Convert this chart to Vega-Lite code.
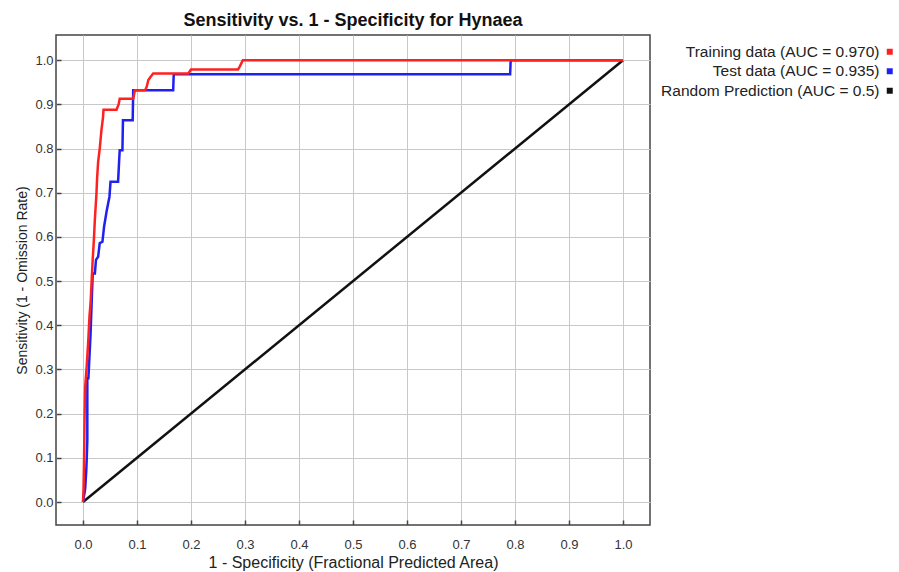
{
  "$schema": "https://vega.github.io/schema/vega-lite/v6.json",
  "autosize": {"type": "none"},
  "width": 594,
  "height": 490,
  "padding": {"left": 56, "top": 35, "right": 249, "bottom": 47},
  "background": "white",
  "title": {"text": "Sensitivity vs. 1 - Specificity for Hynaea", "font": "Liberation Sans", "fontSize": 18, "fontWeight": "bold", "color": "#111", "anchor": "middle", "offset": 5},
  "config": {
    "view": {"stroke": "#444", "strokeWidth": 1.5},
    "axis": {"labelFont": "Liberation Sans", "labelFontSize": 13, "labelColor": "#333", "titleFont": "Liberation Sans", "titleFontWeight": "normal", "titleColor": "#222", "gridColor": "#c8c8c8", "gridWidth": 1, "domain": false, "tickColor": "#444", "tickWidth": 1.5}
  },
  "data": {"values": [
    {"series": "Random Prediction (AUC = 0.5)", "i": 0, "x": 0, "y": 0},
    {"series": "Random Prediction (AUC = 0.5)", "i": 1, "x": 1, "y": 1},
    {"series": "Test data (AUC = 0.935)", "i": 0, "x": 0, "y": 0},
    {"series": "Test data (AUC = 0.935)", "i": 1, "x": 0.004, "y": 0.03},
    {"series": "Test data (AUC = 0.935)", "i": 2, "x": 0.006, "y": 0.07},
    {"series": "Test data (AUC = 0.935)", "i": 3, "x": 0.007, "y": 0.1},
    {"series": "Test data (AUC = 0.935)", "i": 4, "x": 0.008, "y": 0.14},
    {"series": "Test data (AUC = 0.935)", "i": 5, "x": 0.008, "y": 0.28},
    {"series": "Test data (AUC = 0.935)", "i": 6, "x": 0.01, "y": 0.28},
    {"series": "Test data (AUC = 0.935)", "i": 7, "x": 0.012, "y": 0.33},
    {"series": "Test data (AUC = 0.935)", "i": 8, "x": 0.014, "y": 0.38},
    {"series": "Test data (AUC = 0.935)", "i": 9, "x": 0.016, "y": 0.45},
    {"series": "Test data (AUC = 0.935)", "i": 10, "x": 0.018, "y": 0.517},
    {"series": "Test data (AUC = 0.935)", "i": 11, "x": 0.022, "y": 0.517},
    {"series": "Test data (AUC = 0.935)", "i": 12, "x": 0.024, "y": 0.548},
    {"series": "Test data (AUC = 0.935)", "i": 13, "x": 0.028, "y": 0.555},
    {"series": "Test data (AUC = 0.935)", "i": 14, "x": 0.031, "y": 0.586},
    {"series": "Test data (AUC = 0.935)", "i": 15, "x": 0.036, "y": 0.589},
    {"series": "Test data (AUC = 0.935)", "i": 16, "x": 0.039, "y": 0.623},
    {"series": "Test data (AUC = 0.935)", "i": 17, "x": 0.044, "y": 0.66},
    {"series": "Test data (AUC = 0.935)", "i": 18, "x": 0.049, "y": 0.691},
    {"series": "Test data (AUC = 0.935)", "i": 19, "x": 0.051, "y": 0.725},
    {"series": "Test data (AUC = 0.935)", "i": 20, "x": 0.065, "y": 0.725},
    {"series": "Test data (AUC = 0.935)", "i": 21, "x": 0.067, "y": 0.775},
    {"series": "Test data (AUC = 0.935)", "i": 22, "x": 0.068, "y": 0.796},
    {"series": "Test data (AUC = 0.935)", "i": 23, "x": 0.073, "y": 0.796},
    {"series": "Test data (AUC = 0.935)", "i": 24, "x": 0.074, "y": 0.864},
    {"series": "Test data (AUC = 0.935)", "i": 25, "x": 0.092, "y": 0.864},
    {"series": "Test data (AUC = 0.935)", "i": 26, "x": 0.093, "y": 0.932},
    {"series": "Test data (AUC = 0.935)", "i": 27, "x": 0.167, "y": 0.932},
    {"series": "Test data (AUC = 0.935)", "i": 28, "x": 0.168, "y": 0.968},
    {"series": "Test data (AUC = 0.935)", "i": 29, "x": 0.791, "y": 0.968},
    {"series": "Test data (AUC = 0.935)", "i": 30, "x": 0.792, "y": 1.0},
    {"series": "Test data (AUC = 0.935)", "i": 31, "x": 1, "y": 1},
    {"series": "Training data (AUC = 0.970)", "i": 0, "x": 0, "y": 0},
    {"series": "Training data (AUC = 0.970)", "i": 1, "x": 0.001, "y": 0.03},
    {"series": "Training data (AUC = 0.970)", "i": 2, "x": 0.002, "y": 0.1},
    {"series": "Training data (AUC = 0.970)", "i": 3, "x": 0.003, "y": 0.2},
    {"series": "Training data (AUC = 0.970)", "i": 4, "x": 0.004, "y": 0.26},
    {"series": "Training data (AUC = 0.970)", "i": 5, "x": 0.007, "y": 0.31},
    {"series": "Training data (AUC = 0.970)", "i": 6, "x": 0.01, "y": 0.37},
    {"series": "Training data (AUC = 0.970)", "i": 7, "x": 0.012, "y": 0.42},
    {"series": "Training data (AUC = 0.970)", "i": 8, "x": 0.014, "y": 0.45},
    {"series": "Training data (AUC = 0.970)", "i": 9, "x": 0.016, "y": 0.5},
    {"series": "Training data (AUC = 0.970)", "i": 10, "x": 0.018, "y": 0.55},
    {"series": "Training data (AUC = 0.970)", "i": 11, "x": 0.02, "y": 0.59},
    {"series": "Training data (AUC = 0.970)", "i": 12, "x": 0.022, "y": 0.64},
    {"series": "Training data (AUC = 0.970)", "i": 13, "x": 0.025, "y": 0.7},
    {"series": "Training data (AUC = 0.970)", "i": 14, "x": 0.026, "y": 0.73},
    {"series": "Training data (AUC = 0.970)", "i": 15, "x": 0.028, "y": 0.77},
    {"series": "Training data (AUC = 0.970)", "i": 16, "x": 0.031, "y": 0.8},
    {"series": "Training data (AUC = 0.970)", "i": 17, "x": 0.034, "y": 0.84},
    {"series": "Training data (AUC = 0.970)", "i": 18, "x": 0.037, "y": 0.87},
    {"series": "Training data (AUC = 0.970)", "i": 19, "x": 0.038, "y": 0.888},
    {"series": "Training data (AUC = 0.970)", "i": 20, "x": 0.062, "y": 0.888},
    {"series": "Training data (AUC = 0.970)", "i": 21, "x": 0.066, "y": 0.9},
    {"series": "Training data (AUC = 0.970)", "i": 22, "x": 0.068, "y": 0.913},
    {"series": "Training data (AUC = 0.970)", "i": 23, "x": 0.093, "y": 0.913},
    {"series": "Training data (AUC = 0.970)", "i": 24, "x": 0.096, "y": 0.932},
    {"series": "Training data (AUC = 0.970)", "i": 25, "x": 0.115, "y": 0.932},
    {"series": "Training data (AUC = 0.970)", "i": 26, "x": 0.118, "y": 0.94},
    {"series": "Training data (AUC = 0.970)", "i": 27, "x": 0.121, "y": 0.955},
    {"series": "Training data (AUC = 0.970)", "i": 28, "x": 0.125, "y": 0.962},
    {"series": "Training data (AUC = 0.970)", "i": 29, "x": 0.13, "y": 0.97},
    {"series": "Training data (AUC = 0.970)", "i": 30, "x": 0.195, "y": 0.97},
    {"series": "Training data (AUC = 0.970)", "i": 31, "x": 0.2, "y": 0.979},
    {"series": "Training data (AUC = 0.970)", "i": 32, "x": 0.287, "y": 0.979},
    {"series": "Training data (AUC = 0.970)", "i": 33, "x": 0.29, "y": 0.985},
    {"series": "Training data (AUC = 0.970)", "i": 34, "x": 0.296, "y": 1.0},
    {"series": "Training data (AUC = 0.970)", "i": 35, "x": 1, "y": 1}
  ]},
  "mark": {"type": "line", "strokeWidth": 2.5, "strokeJoin": "miter"},
  "encoding": {
    "x": {"field": "x", "type": "quantitative", "scale": {"domain": [-0.05, 1.05], "nice": false, "zero": false},
      "axis": {"values": [0, 0.1, 0.2, 0.3, 0.4, 0.5, 0.6, 0.7, 0.8, 0.9, 1.0], "format": ".1f", "tickSize": -5, "labelPadding": 18, "title": "1 - Specificity  (Fractional Predicted Area)", "titleFontSize": 16, "titlePadding": 3}},
    "y": {"field": "y", "type": "quantitative", "scale": {"domain": [-0.052, 1.057], "nice": false, "zero": false},
      "axis": {"values": [0, 0.1, 0.2, 0.3, 0.4, 0.5, 0.6, 0.7, 0.8, 0.9, 1.0], "format": ".1f", "tickSize": -5, "labelPadding": 8, "title": "Sensitivity  (1 - Omission Rate)", "titleFontSize": 14, "titlePadding": 5}},
    "color": {"field": "series", "type": "nominal",
      "scale": {"domain": ["Training data (AUC = 0.970)", "Test data (AUC = 0.935)", "Random Prediction (AUC = 0.5)"], "range": ["#ff2020", "#2020f0", "#111111"]},
      "legend": {"title": null, "orient": "none", "legendX": 826, "legendY": 9, "symbolType": "square", "symbolSize": 9, "symbolStrokeWidth": 3, "symbolOpacity": 1, "labelAlign": "right", "labelOffset": -18, "labelFont": "Liberation Sans", "labelFontSize": 15.5, "labelColor": "#222", "rowPadding": 2.5, "labelLimit": 400}},
    "order": {"field": "i", "type": "quantitative"}
  }
}
